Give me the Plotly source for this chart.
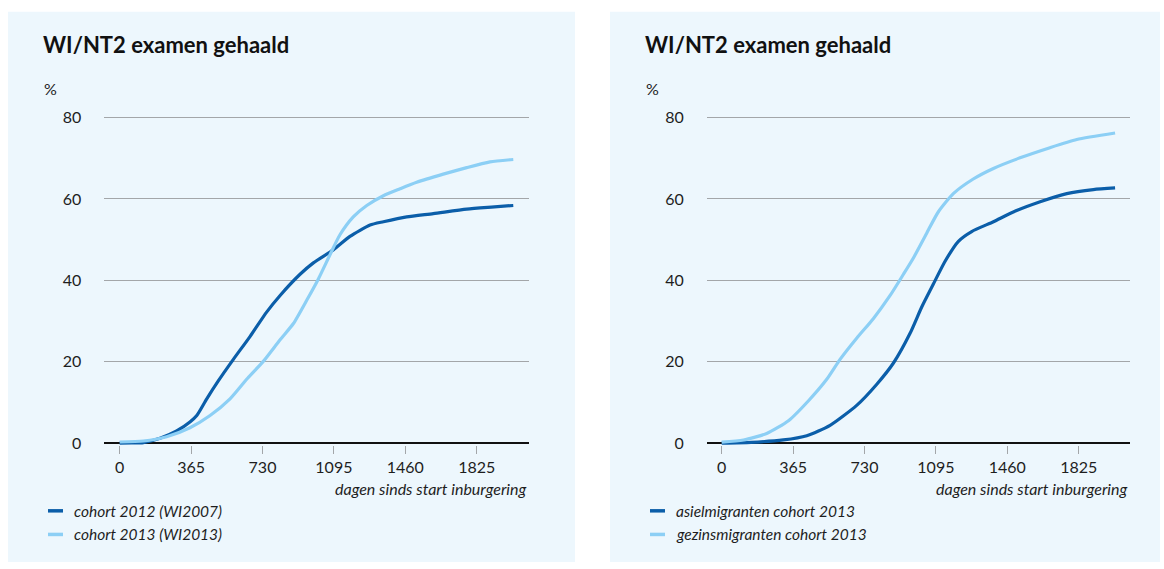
import plotly.graph_objects as go

# ---------------- data ----------------
days_c2012 = [0, 60, 121, 206, 291, 359, 394, 445, 504, 581, 666, 751, 820, 922, 990, 1092,
              1177, 1280, 1348, 1467, 1603, 1774, 1900, 2012]
pct_c2012 = [0.0, 0.05, 0.15, 1.2, 3.0, 5.2, 6.8, 10.9, 15.3, 20.6, 26.2, 32.2, 36.3, 41.5, 44.3, 47.5,
             50.8, 53.6, 54.4, 55.6, 56.4, 57.5, 58.0, 58.4]

days_c2013 = [0, 121, 240, 359, 462, 564, 649, 734, 820, 888, 956, 1015, 1075, 1126, 1194,
              1263, 1348, 1433, 1518, 1654, 1774, 1893, 2012]
pct_c2013 = [0.3, 0.55, 1.6, 3.8, 6.8, 10.9, 15.7, 20.1, 25.4, 29.4, 35.1, 40.3, 46.3, 51.2, 55.6,
             58.4, 60.8, 62.5, 64.1, 66.1, 67.7, 69.1, 69.7]

days_asiel = [0, 150, 315, 435, 554, 690, 793, 878, 963, 1022, 1082, 1142, 1210, 1278, 1389,
              1491, 1628, 1764, 1900, 2011]
pct_asiel = [0.0, 0.2, 0.8, 1.85, 4.4, 9.3, 14.5, 19.7, 27.0, 33.4, 39.1, 44.7, 49.6, 52.0, 54.4,
             56.8, 59.3, 61.3, 62.3, 62.7]

days_gezin = [0, 111, 230, 343, 445, 537, 605, 690, 775, 861, 929, 980, 1048, 1107, 1184, 1286,
              1389, 1525, 1678, 1815, 2011]
pct_gezin = [0.25, 0.8, 2.4, 5.6, 10.5, 15.7, 20.6, 25.8, 30.6, 36.3, 41.5, 45.5, 51.6, 56.8, 61.3,
             64.9, 67.5, 70.1, 72.6, 74.6, 76.2]

x_ticks = [0, 365, 730, 1095, 1460, 1825]
y_ticks = [0, 20, 40, 60, 80]

title_text = "WI/NT2 examen gehaald"
x_title = "dagen sinds start inburgering"
left_names = ["cohort 2012 (WI2007)", "cohort 2013 (WI2013)"]
right_names = ["asielmigranten cohort 2013", "gezinsmigranten cohort 2013"]

# ---------------- style ----------------
W, H = 1164, 569
DARK = "#0b5ea9"
LIGHT = "#8ccff5"
BG = "#edf7fd"
GRID = "#a3a6a9"
TXT = "#1e1e1e"
FONT = "Lato"

def px(x):
    return x / W

def py(y):
    return 1 - y / H

fig = go.Figure()

fig.add_trace(go.Scatter(x=days_c2012, y=pct_c2012, mode="lines", name=left_names[0],
                         line=dict(color=DARK, width=3.2, shape="spline", smoothing=0.6),
                         xaxis="x", yaxis="y", showlegend=False))
fig.add_trace(go.Scatter(x=days_c2013, y=pct_c2013, mode="lines", name=left_names[1],
                         line=dict(color=LIGHT, width=3.2, shape="spline", smoothing=0.6),
                         xaxis="x", yaxis="y", showlegend=False))
fig.add_trace(go.Scatter(x=days_asiel, y=pct_asiel, mode="lines", name=right_names[0],
                         line=dict(color=DARK, width=3.2, shape="spline", smoothing=0.6),
                         xaxis="x2", yaxis="y2", showlegend=False))
fig.add_trace(go.Scatter(x=days_gezin, y=pct_gezin, mode="lines", name=right_names[1],
                         line=dict(color=LIGHT, width=3.2, shape="spline", smoothing=0.6),
                         xaxis="x2", yaxis="y2", showlegend=False))

y0_px = 448.3
y80_px = 117.4
ppu = (y0_px - y80_px) / 80.0
y_lo, y_hi = -0.5, 82
ydom = [py(y0_px + (0 - y_lo) * ppu), py(y0_px - y_hi * ppu)]

xaxis_common = dict(
    tickvals=x_ticks, ticktext=[str(t) for t in x_ticks],
    ticks="outside", ticklen=8, tickwidth=1.3, tickcolor=GRID,
    showgrid=False, zeroline=False, showline=False,
    tickfont=dict(family=FONT, size=16, color=TXT),
    fixedrange=True,
)
yaxis_common = dict(
    tickvals=y_ticks, ticktext=[str(t) for t in y_ticks],
    range=[y_lo, y_hi], domain=ydom,
    showgrid=True, gridcolor=GRID, gridwidth=1.3,
    zeroline=True, zerolinecolor="#111111", zerolinewidth=2.2,
    showline=False, ticks="", ticklabelstandoff=22,
    tickfont=dict(family=FONT, size=16, color=TXT),
    fixedrange=True,
)

ppd = (476.7 - 119.7) / 1825.0
lx0, lx_left, lx_right = 119.7, 104.3, 528.7
rx0, rx_left, rx_right = 721.7, 706.7, 1130.0

fig.update_layout(
    width=W, height=H, autosize=False,
    margin=dict(l=0, r=0, t=0, b=0),
    paper_bgcolor="white", plot_bgcolor="rgba(0,0,0,0)",
    xaxis=dict(domain=[px(lx_left), px(lx_right)],
               range=[(lx_left - lx0) / ppd, (lx_right - lx0) / ppd],
               anchor="y", **xaxis_common),
    yaxis=dict(anchor="x", **yaxis_common),
    xaxis2=dict(domain=[px(rx_left), px(rx_right)],
                range=[(rx_left - rx0) / ppd, (rx_right - rx0) / ppd],
                anchor="y2", **xaxis_common),
    yaxis2=dict(anchor="x2", **yaxis_common),
    showlegend=False,
)

# panel backgrounds
shapes = [
    dict(type="rect", xref="paper", yref="paper", x0=px(8), x1=px(575), y0=py(569), y1=py(10),
         fillcolor=BG, line=dict(width=0), layer="below"),
    dict(type="rect", xref="paper", yref="paper", x0=px(610), x1=px(1160), y0=py(569), y1=py(10),
         fillcolor=BG, line=dict(width=0), layer="below"),
]

annotations = []
for left, axis_right, names in [(42, lx_right, left_names), (644, rx_right, right_names)]:
    annotations.append(dict(text=f"<b>{title_text}</b>", x=px(left - 1), y=py(43), xref="paper", yref="paper",
                            xanchor="left", yanchor="middle", showarrow=False,
                            font=dict(family=FONT, size=22, color="#111111")))
    annotations.append(dict(text="%", x=px(left), y=py(88), xref="paper", yref="paper",
                            xanchor="left", yanchor="middle", showarrow=False,
                            font=dict(family=FONT, size=16, color=TXT)))
    annotations.append(dict(text=f"<i>{x_title}</i>", x=px(axis_right), y=py(494), xref="paper",
                            yref="paper", xanchor="right", yanchor="middle", showarrow=False,
                            font=dict(family=FONT, size=16, color=TXT)))
    for i, (nm, col) in enumerate(zip(names, [DARK, LIGHT])):
        yy = 517 + i * 24
        shapes.append(dict(type="line", xref="paper", yref="paper", x0=px(left + 6), x1=px(left + 21),
                           y0=py(yy), y1=py(yy), line=dict(color=col, width=3.5)))
        annotations.append(dict(text=f"<i>{nm}</i>", x=px(left + 30), y=py(yy), xref="paper",
                                yref="paper", xanchor="left", yanchor="middle", showarrow=False,
                                font=dict(family=FONT, size=15.5, color=TXT)))

fig.update_layout(shapes=shapes, annotations=annotations)

post = (
    "document.documentElement.style.margin='0';"
    "document.documentElement.style.padding='0';"
    "document.documentElement.style.overflow='hidden';"
    "document.body.style.margin='0';"
    "document.body.style.padding='0';"
    "document.body.style.overflow='hidden';"
    "var gd=document.getElementById('{plot_id}');"
    "gd.style.position='fixed';gd.style.left='0px';gd.style.top='0px';"
    "var vh=window.innerHeight||document.documentElement.clientHeight;"
    "if(vh&&vh>100&&Math.abs(vh-" + str(H) + ")>1){gd.style.height=vh+'px';Plotly.relayout(gd,{height:vh});}"
)

fig.write_html("out.html", config={"displayModeBar": False, "responsive": False}, post_script=post)
